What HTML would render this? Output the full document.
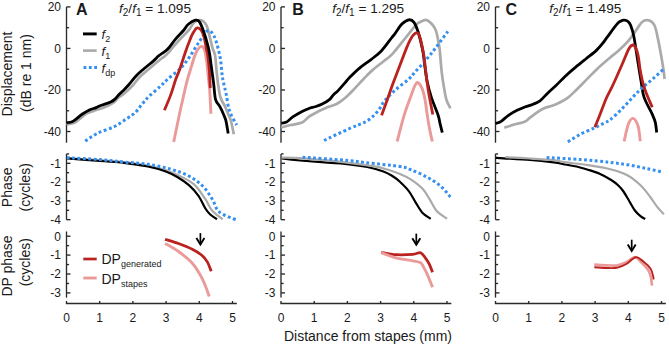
<!DOCTYPE html>
<html><head><meta charset="utf-8"><style>
html,body{margin:0;padding:0;background:#fff;}
svg{display:block;font-family:"Liberation Sans",sans-serif;fill:#222;}
text{fill:#1a1a1a;}
</style></head><body>
<svg width="669" height="347" viewBox="0 0 669 347">
<line x1="66.50" y1="6.90" x2="66.50" y2="142.74" stroke="#2a2a2a" stroke-width="1.35"/>
<line x1="66.50" y1="6.90" x2="70.50" y2="6.90" stroke="#2a2a2a" stroke-width="1.35"/>
<line x1="66.50" y1="48.44" x2="70.50" y2="48.44" stroke="#2a2a2a" stroke-width="1.35"/>
<line x1="66.50" y1="89.98" x2="70.50" y2="89.98" stroke="#2a2a2a" stroke-width="1.35"/>
<line x1="66.50" y1="131.52" x2="70.50" y2="131.52" stroke="#2a2a2a" stroke-width="1.35"/>
<line x1="66.50" y1="27.67" x2="69.10" y2="27.67" stroke="#2a2a2a" stroke-width="1.35"/>
<line x1="66.50" y1="69.21" x2="69.10" y2="69.21" stroke="#2a2a2a" stroke-width="1.35"/>
<line x1="66.50" y1="110.75" x2="69.10" y2="110.75" stroke="#2a2a2a" stroke-width="1.35"/>
<text x="61.00" y="11.20" font-size="12" text-anchor="end" >20</text>
<text x="61.00" y="52.74" font-size="12" text-anchor="end" >0</text>
<text x="61.00" y="94.28" font-size="12" text-anchor="end" >-20</text>
<text x="61.00" y="135.82" font-size="12" text-anchor="end" >-40</text>
<line x1="66.50" y1="153.90" x2="66.50" y2="219.70" stroke="#2a2a2a" stroke-width="1.35"/>
<line x1="66.50" y1="163.30" x2="70.50" y2="163.30" stroke="#2a2a2a" stroke-width="1.35"/>
<line x1="66.50" y1="182.10" x2="70.50" y2="182.10" stroke="#2a2a2a" stroke-width="1.35"/>
<line x1="66.50" y1="200.90" x2="70.50" y2="200.90" stroke="#2a2a2a" stroke-width="1.35"/>
<line x1="66.50" y1="219.70" x2="70.50" y2="219.70" stroke="#2a2a2a" stroke-width="1.35"/>
<line x1="66.50" y1="153.90" x2="69.10" y2="153.90" stroke="#2a2a2a" stroke-width="1.35"/>
<line x1="66.50" y1="172.70" x2="69.10" y2="172.70" stroke="#2a2a2a" stroke-width="1.35"/>
<line x1="66.50" y1="191.50" x2="69.10" y2="191.50" stroke="#2a2a2a" stroke-width="1.35"/>
<line x1="66.50" y1="210.30" x2="69.10" y2="210.30" stroke="#2a2a2a" stroke-width="1.35"/>
<text x="61.00" y="167.60" font-size="12" text-anchor="end" >-1</text>
<text x="61.00" y="186.40" font-size="12" text-anchor="end" >-2</text>
<text x="61.00" y="205.20" font-size="12" text-anchor="end" >-3</text>
<text x="61.00" y="224.00" font-size="12" text-anchor="end" >-4</text>
<line x1="66.50" y1="231.47" x2="66.50" y2="297.62" stroke="#2a2a2a" stroke-width="1.35"/>
<line x1="66.50" y1="236.20" x2="70.50" y2="236.20" stroke="#2a2a2a" stroke-width="1.35"/>
<line x1="66.50" y1="255.10" x2="70.50" y2="255.10" stroke="#2a2a2a" stroke-width="1.35"/>
<line x1="66.50" y1="274.00" x2="70.50" y2="274.00" stroke="#2a2a2a" stroke-width="1.35"/>
<line x1="66.50" y1="292.90" x2="70.50" y2="292.90" stroke="#2a2a2a" stroke-width="1.35"/>
<line x1="66.50" y1="245.65" x2="69.10" y2="245.65" stroke="#2a2a2a" stroke-width="1.35"/>
<line x1="66.50" y1="264.55" x2="69.10" y2="264.55" stroke="#2a2a2a" stroke-width="1.35"/>
<line x1="66.50" y1="283.45" x2="69.10" y2="283.45" stroke="#2a2a2a" stroke-width="1.35"/>
<text x="61.00" y="240.50" font-size="12" text-anchor="end" >0</text>
<text x="61.00" y="259.40" font-size="12" text-anchor="end" >-1</text>
<text x="61.00" y="278.30" font-size="12" text-anchor="end" >-2</text>
<text x="61.00" y="297.20" font-size="12" text-anchor="end" >-3</text>
<line x1="65.90" y1="303.50" x2="236.82" y2="303.50" stroke="#2a2a2a" stroke-width="1.35"/>
<line x1="66.50" y1="303.50" x2="66.50" y2="301.00" stroke="#2a2a2a" stroke-width="1.35"/>
<text x="66.50" y="322.00" font-size="12" text-anchor="middle" >0</text>
<line x1="99.70" y1="303.50" x2="99.70" y2="301.00" stroke="#2a2a2a" stroke-width="1.35"/>
<text x="99.70" y="322.00" font-size="12" text-anchor="middle" >1</text>
<line x1="132.90" y1="303.50" x2="132.90" y2="301.00" stroke="#2a2a2a" stroke-width="1.35"/>
<text x="132.90" y="322.00" font-size="12" text-anchor="middle" >2</text>
<line x1="166.10" y1="303.50" x2="166.10" y2="301.00" stroke="#2a2a2a" stroke-width="1.35"/>
<text x="166.10" y="322.00" font-size="12" text-anchor="middle" >3</text>
<line x1="199.30" y1="303.50" x2="199.30" y2="301.00" stroke="#2a2a2a" stroke-width="1.35"/>
<text x="199.30" y="322.00" font-size="12" text-anchor="middle" >4</text>
<line x1="232.50" y1="303.50" x2="232.50" y2="301.00" stroke="#2a2a2a" stroke-width="1.35"/>
<text x="232.50" y="322.00" font-size="12" text-anchor="middle" >5</text>
<line x1="281.00" y1="6.90" x2="281.00" y2="142.74" stroke="#2a2a2a" stroke-width="1.35"/>
<line x1="281.00" y1="6.90" x2="285.00" y2="6.90" stroke="#2a2a2a" stroke-width="1.35"/>
<line x1="281.00" y1="48.44" x2="285.00" y2="48.44" stroke="#2a2a2a" stroke-width="1.35"/>
<line x1="281.00" y1="89.98" x2="285.00" y2="89.98" stroke="#2a2a2a" stroke-width="1.35"/>
<line x1="281.00" y1="131.52" x2="285.00" y2="131.52" stroke="#2a2a2a" stroke-width="1.35"/>
<line x1="281.00" y1="27.67" x2="283.60" y2="27.67" stroke="#2a2a2a" stroke-width="1.35"/>
<line x1="281.00" y1="69.21" x2="283.60" y2="69.21" stroke="#2a2a2a" stroke-width="1.35"/>
<line x1="281.00" y1="110.75" x2="283.60" y2="110.75" stroke="#2a2a2a" stroke-width="1.35"/>
<text x="275.50" y="11.20" font-size="12" text-anchor="end" >20</text>
<text x="275.50" y="52.74" font-size="12" text-anchor="end" >0</text>
<text x="275.50" y="94.28" font-size="12" text-anchor="end" >-20</text>
<text x="275.50" y="135.82" font-size="12" text-anchor="end" >-40</text>
<line x1="281.00" y1="153.90" x2="281.00" y2="219.70" stroke="#2a2a2a" stroke-width="1.35"/>
<line x1="281.00" y1="163.30" x2="285.00" y2="163.30" stroke="#2a2a2a" stroke-width="1.35"/>
<line x1="281.00" y1="182.10" x2="285.00" y2="182.10" stroke="#2a2a2a" stroke-width="1.35"/>
<line x1="281.00" y1="200.90" x2="285.00" y2="200.90" stroke="#2a2a2a" stroke-width="1.35"/>
<line x1="281.00" y1="219.70" x2="285.00" y2="219.70" stroke="#2a2a2a" stroke-width="1.35"/>
<line x1="281.00" y1="153.90" x2="283.60" y2="153.90" stroke="#2a2a2a" stroke-width="1.35"/>
<line x1="281.00" y1="172.70" x2="283.60" y2="172.70" stroke="#2a2a2a" stroke-width="1.35"/>
<line x1="281.00" y1="191.50" x2="283.60" y2="191.50" stroke="#2a2a2a" stroke-width="1.35"/>
<line x1="281.00" y1="210.30" x2="283.60" y2="210.30" stroke="#2a2a2a" stroke-width="1.35"/>
<text x="275.50" y="167.60" font-size="12" text-anchor="end" >-1</text>
<text x="275.50" y="186.40" font-size="12" text-anchor="end" >-2</text>
<text x="275.50" y="205.20" font-size="12" text-anchor="end" >-3</text>
<text x="275.50" y="224.00" font-size="12" text-anchor="end" >-4</text>
<line x1="281.00" y1="231.47" x2="281.00" y2="297.62" stroke="#2a2a2a" stroke-width="1.35"/>
<line x1="281.00" y1="236.20" x2="285.00" y2="236.20" stroke="#2a2a2a" stroke-width="1.35"/>
<line x1="281.00" y1="255.10" x2="285.00" y2="255.10" stroke="#2a2a2a" stroke-width="1.35"/>
<line x1="281.00" y1="274.00" x2="285.00" y2="274.00" stroke="#2a2a2a" stroke-width="1.35"/>
<line x1="281.00" y1="292.90" x2="285.00" y2="292.90" stroke="#2a2a2a" stroke-width="1.35"/>
<line x1="281.00" y1="245.65" x2="283.60" y2="245.65" stroke="#2a2a2a" stroke-width="1.35"/>
<line x1="281.00" y1="264.55" x2="283.60" y2="264.55" stroke="#2a2a2a" stroke-width="1.35"/>
<line x1="281.00" y1="283.45" x2="283.60" y2="283.45" stroke="#2a2a2a" stroke-width="1.35"/>
<text x="275.50" y="240.50" font-size="12" text-anchor="end" >0</text>
<text x="275.50" y="259.40" font-size="12" text-anchor="end" >-1</text>
<text x="275.50" y="278.30" font-size="12" text-anchor="end" >-2</text>
<text x="275.50" y="297.20" font-size="12" text-anchor="end" >-3</text>
<line x1="280.40" y1="303.50" x2="451.32" y2="303.50" stroke="#2a2a2a" stroke-width="1.35"/>
<line x1="281.00" y1="303.50" x2="281.00" y2="301.00" stroke="#2a2a2a" stroke-width="1.35"/>
<text x="281.00" y="322.00" font-size="12" text-anchor="middle" >0</text>
<line x1="314.20" y1="303.50" x2="314.20" y2="301.00" stroke="#2a2a2a" stroke-width="1.35"/>
<text x="314.20" y="322.00" font-size="12" text-anchor="middle" >1</text>
<line x1="347.40" y1="303.50" x2="347.40" y2="301.00" stroke="#2a2a2a" stroke-width="1.35"/>
<text x="347.40" y="322.00" font-size="12" text-anchor="middle" >2</text>
<line x1="380.60" y1="303.50" x2="380.60" y2="301.00" stroke="#2a2a2a" stroke-width="1.35"/>
<text x="380.60" y="322.00" font-size="12" text-anchor="middle" >3</text>
<line x1="413.80" y1="303.50" x2="413.80" y2="301.00" stroke="#2a2a2a" stroke-width="1.35"/>
<text x="413.80" y="322.00" font-size="12" text-anchor="middle" >4</text>
<line x1="447.00" y1="303.50" x2="447.00" y2="301.00" stroke="#2a2a2a" stroke-width="1.35"/>
<text x="447.00" y="322.00" font-size="12" text-anchor="middle" >5</text>
<line x1="495.50" y1="6.90" x2="495.50" y2="142.74" stroke="#2a2a2a" stroke-width="1.35"/>
<line x1="495.50" y1="6.90" x2="499.50" y2="6.90" stroke="#2a2a2a" stroke-width="1.35"/>
<line x1="495.50" y1="48.44" x2="499.50" y2="48.44" stroke="#2a2a2a" stroke-width="1.35"/>
<line x1="495.50" y1="89.98" x2="499.50" y2="89.98" stroke="#2a2a2a" stroke-width="1.35"/>
<line x1="495.50" y1="131.52" x2="499.50" y2="131.52" stroke="#2a2a2a" stroke-width="1.35"/>
<line x1="495.50" y1="27.67" x2="498.10" y2="27.67" stroke="#2a2a2a" stroke-width="1.35"/>
<line x1="495.50" y1="69.21" x2="498.10" y2="69.21" stroke="#2a2a2a" stroke-width="1.35"/>
<line x1="495.50" y1="110.75" x2="498.10" y2="110.75" stroke="#2a2a2a" stroke-width="1.35"/>
<text x="490.00" y="11.20" font-size="12" text-anchor="end" >20</text>
<text x="490.00" y="52.74" font-size="12" text-anchor="end" >0</text>
<text x="490.00" y="94.28" font-size="12" text-anchor="end" >-20</text>
<text x="490.00" y="135.82" font-size="12" text-anchor="end" >-40</text>
<line x1="495.50" y1="153.90" x2="495.50" y2="219.70" stroke="#2a2a2a" stroke-width="1.35"/>
<line x1="495.50" y1="163.30" x2="499.50" y2="163.30" stroke="#2a2a2a" stroke-width="1.35"/>
<line x1="495.50" y1="182.10" x2="499.50" y2="182.10" stroke="#2a2a2a" stroke-width="1.35"/>
<line x1="495.50" y1="200.90" x2="499.50" y2="200.90" stroke="#2a2a2a" stroke-width="1.35"/>
<line x1="495.50" y1="219.70" x2="499.50" y2="219.70" stroke="#2a2a2a" stroke-width="1.35"/>
<line x1="495.50" y1="153.90" x2="498.10" y2="153.90" stroke="#2a2a2a" stroke-width="1.35"/>
<line x1="495.50" y1="172.70" x2="498.10" y2="172.70" stroke="#2a2a2a" stroke-width="1.35"/>
<line x1="495.50" y1="191.50" x2="498.10" y2="191.50" stroke="#2a2a2a" stroke-width="1.35"/>
<line x1="495.50" y1="210.30" x2="498.10" y2="210.30" stroke="#2a2a2a" stroke-width="1.35"/>
<text x="490.00" y="167.60" font-size="12" text-anchor="end" >-1</text>
<text x="490.00" y="186.40" font-size="12" text-anchor="end" >-2</text>
<text x="490.00" y="205.20" font-size="12" text-anchor="end" >-3</text>
<text x="490.00" y="224.00" font-size="12" text-anchor="end" >-4</text>
<line x1="495.50" y1="231.47" x2="495.50" y2="297.62" stroke="#2a2a2a" stroke-width="1.35"/>
<line x1="495.50" y1="236.20" x2="499.50" y2="236.20" stroke="#2a2a2a" stroke-width="1.35"/>
<line x1="495.50" y1="255.10" x2="499.50" y2="255.10" stroke="#2a2a2a" stroke-width="1.35"/>
<line x1="495.50" y1="274.00" x2="499.50" y2="274.00" stroke="#2a2a2a" stroke-width="1.35"/>
<line x1="495.50" y1="292.90" x2="499.50" y2="292.90" stroke="#2a2a2a" stroke-width="1.35"/>
<line x1="495.50" y1="245.65" x2="498.10" y2="245.65" stroke="#2a2a2a" stroke-width="1.35"/>
<line x1="495.50" y1="264.55" x2="498.10" y2="264.55" stroke="#2a2a2a" stroke-width="1.35"/>
<line x1="495.50" y1="283.45" x2="498.10" y2="283.45" stroke="#2a2a2a" stroke-width="1.35"/>
<text x="490.00" y="240.50" font-size="12" text-anchor="end" >0</text>
<text x="490.00" y="259.40" font-size="12" text-anchor="end" >-1</text>
<text x="490.00" y="278.30" font-size="12" text-anchor="end" >-2</text>
<text x="490.00" y="297.20" font-size="12" text-anchor="end" >-3</text>
<line x1="494.90" y1="303.50" x2="665.82" y2="303.50" stroke="#2a2a2a" stroke-width="1.35"/>
<line x1="495.50" y1="303.50" x2="495.50" y2="301.00" stroke="#2a2a2a" stroke-width="1.35"/>
<text x="495.50" y="322.00" font-size="12" text-anchor="middle" >0</text>
<line x1="528.70" y1="303.50" x2="528.70" y2="301.00" stroke="#2a2a2a" stroke-width="1.35"/>
<text x="528.70" y="322.00" font-size="12" text-anchor="middle" >1</text>
<line x1="561.90" y1="303.50" x2="561.90" y2="301.00" stroke="#2a2a2a" stroke-width="1.35"/>
<text x="561.90" y="322.00" font-size="12" text-anchor="middle" >2</text>
<line x1="595.10" y1="303.50" x2="595.10" y2="301.00" stroke="#2a2a2a" stroke-width="1.35"/>
<text x="595.10" y="322.00" font-size="12" text-anchor="middle" >3</text>
<line x1="628.30" y1="303.50" x2="628.30" y2="301.00" stroke="#2a2a2a" stroke-width="1.35"/>
<text x="628.30" y="322.00" font-size="12" text-anchor="middle" >4</text>
<line x1="661.50" y1="303.50" x2="661.50" y2="301.00" stroke="#2a2a2a" stroke-width="1.35"/>
<text x="661.50" y="322.00" font-size="12" text-anchor="middle" >5</text>
<text x="0" y="0" font-size="14" text-anchor="middle" transform="translate(12.4,74) rotate(-90)">Displacement</text>
<text x="0" y="0" font-size="14" text-anchor="middle" transform="translate(31.3,73) rotate(-90)">(dB re 1 nm)</text>
<text x="0" y="0" font-size="14" text-anchor="middle" transform="translate(12.4,187.3) rotate(-90)">Phase</text>
<text x="0" y="0" font-size="14" text-anchor="middle" transform="translate(30,187.3) rotate(-90)">(cycles)</text>
<text x="0" y="0" font-size="14" text-anchor="middle" transform="translate(12.4,266) rotate(-90)">DP phase</text>
<text x="0" y="0" font-size="14" text-anchor="middle" transform="translate(30.3,262.2) rotate(-90)">(cycles)</text>
<text x="368.00" y="341.00" font-size="14" text-anchor="middle" >Distance from stapes (mm)</text>
<path d="M83.0,33.9 L96.7,33.9" fill="none" stroke="#000" stroke-width="2.9" stroke-linejoin="round" stroke-linecap="butt"/>
<path d="M83.0,50.6 L96.7,50.6" fill="none" stroke="#aaaaaa" stroke-width="2.6" stroke-linejoin="round" stroke-linecap="butt"/>
<path d="M83.5,67.5 L98.0,67.5" fill="none" stroke="#3590f0" stroke-width="3.0" stroke-linejoin="round" stroke-linecap="butt" stroke-dasharray="2.85 2.5"/>
<text x="101.5" y="39.4" font-size="13"><tspan font-style="italic">f</tspan><tspan font-size="9" dy="3">2</tspan></text>
<text x="101.5" y="56" font-size="13"><tspan font-style="italic">f</tspan><tspan font-size="9" dy="3">1</tspan></text>
<text x="101.5" y="72.5" font-size="13"><tspan font-style="italic">f</tspan><tspan font-size="9" dy="3">dp</tspan></text>
<text x="191" y="12.9" font-size="13.6" text-anchor="end"><tspan font-style="italic">f</tspan><tspan font-size="10" dy="3">2</tspan><tspan dy="-3">/</tspan><tspan font-style="italic">f</tspan><tspan font-size="10" dy="3">1</tspan><tspan dy="-3"> = 1.095</tspan></text>
<text x="404.2" y="12.9" font-size="13.6" text-anchor="end"><tspan font-style="italic">f</tspan><tspan font-size="10" dy="3">2</tspan><tspan dy="-3">/</tspan><tspan font-style="italic">f</tspan><tspan font-size="10" dy="3">1</tspan><tspan dy="-3"> = 1.295</tspan></text>
<text x="621.3" y="12.9" font-size="13.6" text-anchor="end"><tspan font-style="italic">f</tspan><tspan font-size="10" dy="3">2</tspan><tspan dy="-3">/</tspan><tspan font-style="italic">f</tspan><tspan font-size="10" dy="3">1</tspan><tspan dy="-3"> = 1.495</tspan></text>
<text x="76" y="14.8" font-size="16" font-weight="bold">A</text>
<text x="292.3" y="14.8" font-size="16" font-weight="bold">B</text>
<text x="505.5" y="14.8" font-size="16" font-weight="bold">C</text>
<path d="M83.3,259.0 L96.7,259.0" fill="none" stroke="#b9221e" stroke-width="2.7" stroke-linejoin="round" stroke-linecap="butt"/>
<path d="M83.3,278.0 L96.7,278.0" fill="none" stroke="#eb9a9a" stroke-width="2.9" stroke-linejoin="round" stroke-linecap="butt"/>
<text x="101.5" y="264.4" font-size="14">DP<tspan font-size="9" dy="3">generated</tspan></text>
<text x="101.5" y="284" font-size="14">DP<tspan font-size="9" dy="3">stapes</tspan></text>
<path d="M66.5,124.4 C67.8,124.1 72.1,123.7 74.4,122.7 C76.7,121.7 78.0,120.1 80.1,118.6 C82.2,117.0 84.4,114.8 87.1,113.4 C89.8,112.0 93.5,111.0 96.3,110.0 C99.1,109.0 101.2,108.8 104.0,107.6 C106.8,106.4 110.6,104.7 113.1,103.0 C115.6,101.3 116.9,98.9 118.8,97.3 C120.7,95.7 122.2,95.3 124.6,93.3 C127.0,91.2 130.5,87.8 133.1,85.0 C135.7,82.2 137.5,79.2 140.0,76.7 C142.5,74.2 144.7,72.6 148.0,69.8 C151.3,67.0 156.8,62.3 159.6,60.0 C162.4,57.7 163.2,57.6 165.0,56.0 C166.8,54.4 167.9,53.2 170.2,50.6 C172.5,48.0 175.7,43.9 178.8,40.5 C181.9,37.1 186.3,33.0 188.9,30.0 C191.5,26.9 192.3,23.8 194.4,22.2 C196.5,20.6 199.3,19.7 201.3,20.2 C203.3,20.7 205.1,22.5 206.5,25.4 C207.9,28.3 208.9,33.7 209.9,37.5 C210.9,41.3 211.7,45.1 212.5,48.0 C213.3,50.9 214.3,51.3 215.0,55.0 C215.7,58.7 216.0,65.0 216.5,70.0 C217.0,75.0 217.5,80.3 218.2,85.0 C218.9,89.7 219.5,94.4 220.7,98.0 C221.8,101.6 223.8,103.8 225.1,106.6 C226.4,109.4 227.5,112.6 228.5,115.0 C229.5,117.4 230.1,117.8 231.0,121.0 C231.9,124.2 233.3,132.0 233.8,134.2" fill="none" stroke="#aaaaaa" stroke-width="2.7" stroke-linejoin="round" stroke-linecap="butt"/>
<path d="M85.2,141.1 C87.2,139.8 92.4,135.8 97.3,133.4 C102.2,131.0 109.6,128.9 114.5,126.5 C119.4,124.0 123.1,121.0 126.6,118.7 C130.1,116.4 132.7,115.0 135.3,112.6 C137.9,110.1 139.9,106.7 142.2,104.0 C144.5,101.3 146.1,99.1 149.1,96.2 C152.1,93.3 157.0,89.5 160.0,86.7 C163.0,83.9 164.2,82.3 167.3,79.5 C170.4,76.7 176.1,72.4 178.8,70.0 C181.5,67.6 181.6,67.4 183.4,65.1 C185.2,62.8 187.5,60.0 189.9,56.4 C192.3,52.8 195.3,47.6 198.1,43.5 C200.9,39.4 204.2,33.4 206.5,31.5 C208.8,29.6 210.0,30.7 211.6,32.3 C213.2,33.9 214.6,36.7 216.0,41.0 C217.4,45.3 219.3,52.8 220.3,58.3 C221.3,63.8 221.5,69.9 222.0,73.9 C222.5,78.0 222.8,79.3 223.5,82.6 C224.2,85.9 225.1,89.0 226.1,93.8 C227.1,98.5 227.8,105.9 229.6,111.1 C231.4,116.3 235.6,122.7 236.8,125.0" fill="none" stroke="#3590f0" stroke-width="3.0" stroke-linejoin="round" stroke-linecap="butt" stroke-dasharray="2.85 2.5"/>
<path d="M173.7,142.0 C174.7,137.3 177.6,122.8 179.5,114.0 C181.4,105.2 183.7,95.1 185.1,89.0 C186.5,82.9 186.9,81.3 188.0,77.5 C189.1,73.7 190.3,70.0 191.6,65.9 C192.9,61.8 194.3,56.2 195.9,53.0 C197.5,49.8 199.6,47.0 201.0,46.5 C202.4,46.0 203.7,47.6 204.6,50.1 C205.5,52.6 206.1,57.3 206.7,61.6 C207.3,65.9 207.7,71.4 208.2,76.0 C208.7,80.6 209.1,82.7 209.6,89.0 C210.1,95.3 210.7,109.6 210.9,113.7" fill="none" stroke="#eb9a9a" stroke-width="2.9" stroke-linejoin="round" stroke-linecap="butt"/>
<path d="M164.4,110.2 C165.5,107.6 169.0,99.6 170.8,94.6 C172.7,89.6 174.1,84.1 175.5,80.0 C176.9,75.9 177.9,74.5 179.5,70.0 C181.1,65.5 183.4,58.0 185.1,53.0 C186.8,48.0 188.6,43.2 189.9,40.0 C191.2,36.8 191.6,35.5 192.8,33.5 C194.0,31.5 195.5,28.6 196.9,28.0 C198.3,27.4 199.8,28.5 201.0,30.0 C202.2,31.5 203.1,33.7 204.0,37.0 C204.9,40.3 205.9,46.6 206.5,49.6 C207.1,52.6 207.2,51.6 207.7,55.0 C208.2,58.4 208.9,65.0 209.3,70.0 C209.7,75.0 209.9,82.0 210.1,85.0 C210.3,88.0 210.3,87.5 210.4,88.0" fill="none" stroke="#b9221e" stroke-width="2.8" stroke-linejoin="round" stroke-linecap="butt"/>
<path d="M66.5,122.9 C67.4,122.7 70.4,122.4 72.1,121.7 C73.8,121.0 75.0,119.9 76.7,118.6 C78.4,117.3 80.3,115.4 82.4,114.0 C84.5,112.6 87.1,111.1 89.4,110.0 C91.7,108.9 94.3,108.4 96.3,107.6 C98.3,106.8 99.1,106.2 101.5,105.3 C103.9,104.4 108.5,103.0 110.7,102.0 C112.9,101.0 113.5,100.4 114.8,99.2 C116.1,98.0 117.4,96.3 118.8,94.8 C120.2,93.3 121.8,92.0 123.4,90.4 C125.0,88.8 126.3,87.5 128.5,85.0 C130.7,82.5 134.0,78.1 136.5,75.5 C139.0,72.9 140.5,71.7 143.4,69.2 C146.3,66.7 151.3,62.8 153.8,60.6 C156.3,58.4 156.7,57.5 158.6,55.9 C160.5,54.3 163.3,52.6 165.0,51.3 C166.7,50.0 166.9,50.1 168.7,48.0 C170.5,45.9 173.4,41.6 175.9,38.6 C178.4,35.6 181.8,32.4 183.9,30.0 C186.0,27.6 186.4,25.8 188.3,24.2 C190.2,22.6 193.5,20.6 195.4,20.2 C197.3,19.8 198.1,19.9 199.5,21.9 C200.9,23.9 202.5,28.3 203.9,32.3 C205.3,36.3 207.0,42.2 208.0,46.0 C209.0,49.8 209.2,51.0 209.8,55.0 C210.4,59.0 211.1,65.0 211.8,70.0 C212.5,75.0 213.2,80.0 213.8,85.0 C214.4,90.0 214.6,96.1 215.6,99.7 C216.6,103.3 218.5,104.0 219.9,106.6 C221.3,109.1 222.8,112.5 223.8,115.0 C224.8,117.5 225.4,118.4 226.1,121.5 C226.8,124.6 227.8,131.6 228.2,133.6" fill="none" stroke="#000" stroke-width="2.8" stroke-linejoin="round" stroke-linecap="butt"/>
<path d="M67.0,158.0 C72.5,158.4 90.5,159.5 100.0,160.2 C109.5,160.9 115.9,161.1 123.9,162.0 C131.9,162.9 140.8,164.1 147.8,165.5 C154.8,166.9 160.8,168.6 165.8,170.2 C170.8,171.8 173.0,172.7 177.7,175.0 C182.4,177.3 189.2,180.2 193.8,184.2 C198.4,188.2 202.3,194.8 205.4,199.2 C208.5,203.6 209.4,207.5 212.3,210.8 C215.2,214.2 221.0,217.9 222.7,219.3" fill="none" stroke="#aaaaaa" stroke-width="2.2" stroke-linejoin="round" stroke-linecap="butt"/>
<path d="M67.0,158.4 C72.5,158.8 90.5,160.2 100.0,161.0 C109.5,161.8 115.9,162.0 123.9,162.9 C131.9,163.8 140.8,165.1 147.8,166.5 C154.8,167.9 160.8,169.7 165.8,171.5 C170.8,173.3 173.8,175.0 177.7,177.3 C181.6,179.6 185.7,182.3 189.2,185.4 C192.7,188.5 195.8,192.0 198.5,195.8 C201.2,199.7 203.5,205.4 205.4,208.5 C207.3,211.6 208.1,212.4 210.0,214.2 C211.9,216.0 215.8,218.5 216.9,219.3" fill="none" stroke="#000" stroke-width="2.2" stroke-linejoin="round" stroke-linecap="butt"/>
<path d="M66.9,157.7 C72.4,158.0 90.5,158.9 100.0,159.6 C109.5,160.3 115.9,161.2 123.9,162.0 C131.9,162.8 140.0,163.1 147.8,164.3 C155.6,165.5 163.9,167.2 170.8,169.2 C177.7,171.2 183.8,173.3 189.2,176.2 C194.6,179.1 199.2,182.7 203.1,186.5 C206.9,190.3 209.6,195.0 212.3,199.2 C215.0,203.4 215.2,208.4 219.2,211.9 C223.2,215.4 233.6,218.7 236.5,220.0" fill="none" stroke="#3590f0" stroke-width="3.0" stroke-linejoin="round" stroke-linecap="butt" stroke-dasharray="2.85 2.5"/>
<path d="M165.1,243.5 C167.3,244.8 174.0,248.2 178.5,251.5 C183.0,254.8 188.5,258.9 192.3,263.2 C196.1,267.5 199.2,273.1 201.5,277.2 C203.8,281.3 204.9,284.8 206.2,288.0 C207.5,291.2 208.7,295.1 209.2,296.5" fill="none" stroke="#eb9a9a" stroke-width="2.9" stroke-linejoin="round" stroke-linecap="butt"/>
<path d="M165.1,239.3 C167.3,240.0 174.0,241.8 178.5,243.5 C183.0,245.2 188.5,247.3 192.3,249.2 C196.1,251.1 199.0,252.9 201.5,255.0 C204.0,257.1 205.7,259.2 207.3,261.9 C208.9,264.6 210.5,269.6 211.2,271.2" fill="none" stroke="#b9221e" stroke-width="2.8" stroke-linejoin="round" stroke-linecap="butt"/>
<path d="M200.4,233.1 L200.4,244.3" fill="none" stroke="#000" stroke-width="1.7"/><path d="M196.4,238.10000000000002 L200.4,244.5 L204.4,238.10000000000002" fill="none" stroke="#000" stroke-width="1.9" stroke-linejoin="miter"/>
<path d="M281.3,127.5 C282.8,127.1 287.0,125.8 290.5,125.0 C294.0,124.2 299.0,124.0 302.1,122.6 C305.2,121.2 306.2,118.6 309.0,116.7 C311.8,114.8 316.1,112.5 319.0,111.0 C321.9,109.5 323.6,108.8 326.5,107.6 C329.4,106.4 333.5,105.6 336.6,104.0 C339.7,102.4 342.3,100.4 345.3,97.8 C348.3,95.2 351.5,91.8 354.6,88.6 C357.7,85.4 360.7,82.0 363.8,78.8 C366.9,75.6 368.7,73.3 373.1,69.6 C377.5,65.8 386.4,59.4 390.0,56.3 C393.6,53.2 392.4,53.9 395.0,50.9 C397.6,47.9 401.9,42.3 405.4,38.0 C408.9,33.7 413.3,27.8 415.8,25.1 C418.3,22.4 418.5,22.9 420.2,22.0 C421.9,21.1 424.1,19.6 426.0,19.8 C427.9,20.1 429.7,21.7 431.3,23.5 C432.9,25.3 434.5,26.6 435.8,30.4 C437.1,34.1 438.4,41.3 439.2,46.0 C440.0,50.7 440.1,54.4 440.5,58.7 C440.9,63.0 441.2,67.9 441.7,72.0 C442.2,76.1 442.5,78.7 443.3,83.2 C444.1,87.8 445.1,95.1 446.3,99.3 C447.5,103.5 449.7,106.9 450.4,108.4" fill="none" stroke="#aaaaaa" stroke-width="2.7" stroke-linejoin="round" stroke-linecap="butt"/>
<path d="M281.3,123.2 C282.2,123.0 284.6,123.1 286.5,122.1 C288.4,121.0 290.2,118.7 292.8,116.9 C295.4,115.1 299.2,112.9 302.1,111.4 C305.0,109.9 308.0,108.8 310.1,108.0 C312.2,107.2 313.0,107.5 315.0,106.8 C317.0,106.1 319.8,105.2 322.2,104.0 C324.6,102.8 327.5,101.2 329.4,99.6 C331.3,98.0 332.2,96.0 333.7,94.5 C335.1,93.0 336.2,92.6 338.1,90.6 C340.0,88.6 343.3,84.8 345.3,82.5 C347.3,80.2 347.7,79.4 350.0,77.1 C352.3,74.8 355.8,71.3 359.2,68.4 C362.6,65.5 367.0,62.7 370.7,59.8 C374.4,56.9 377.6,54.8 381.1,51.2 C384.6,47.6 389.2,40.9 391.5,38.0 C393.8,35.1 393.3,35.9 395.0,33.6 C396.7,31.3 399.6,26.4 401.9,24.1 C404.2,21.8 406.8,20.1 408.8,19.8 C410.8,19.5 412.4,20.2 414.0,22.4 C415.6,24.6 416.9,28.2 418.4,32.8 C419.8,37.4 421.6,44.7 422.7,50.1 C423.8,55.5 424.0,59.8 424.7,65.0 C425.4,70.2 426.0,75.8 427.1,81.2 C428.2,86.6 429.5,91.5 431.3,97.2 C433.1,102.9 436.8,111.1 438.2,115.5 C439.6,119.9 439.3,120.5 440.0,123.4 C440.7,126.3 441.9,131.1 442.3,132.7" fill="none" stroke="#000" stroke-width="2.8" stroke-linejoin="round" stroke-linecap="butt"/>
<path d="M324.0,140.5 C328.2,138.5 342.4,131.7 349.5,128.5 C356.6,125.3 361.9,124.0 366.6,121.2 C371.3,118.4 374.5,114.9 377.6,111.4 C380.7,107.9 381.9,104.1 385.0,100.4 C388.1,96.7 392.1,92.9 396.0,89.4 C399.9,85.9 405.0,82.5 408.2,79.6 C411.4,76.7 412.1,75.2 415.0,72.0 C417.9,68.8 421.9,64.8 425.4,60.7 C428.9,56.7 432.1,52.6 435.8,47.7 C439.6,42.8 445.9,34.0 447.9,31.3" fill="none" stroke="#3590f0" stroke-width="3.0" stroke-linejoin="round" stroke-linecap="butt" stroke-dasharray="2.85 2.5"/>
<path d="M397.1,141.5 C398.3,137.1 401.8,123.0 404.1,115.3 C406.5,107.6 409.4,100.2 411.2,95.2 C413.0,90.2 414.0,87.2 415.2,85.1 C416.4,83.0 417.0,82.0 418.2,82.7 C419.4,83.4 421.1,86.0 422.3,89.1 C423.5,92.2 424.5,96.8 425.3,101.2 C426.1,105.6 426.6,110.9 427.3,115.3 C428.0,119.7 428.5,123.0 429.3,127.4 C430.1,131.8 431.8,139.2 432.3,141.5" fill="none" stroke="#eb9a9a" stroke-width="2.9" stroke-linejoin="round" stroke-linecap="butt"/>
<path d="M381.6,115.4 C382.5,112.8 385.4,105.1 387.2,100.0 C389.0,94.9 390.5,90.2 392.4,85.0 C394.3,79.8 396.1,75.5 398.5,69.1 C400.9,62.7 404.8,52.1 407.1,46.6 C409.4,41.1 410.9,38.3 412.5,36.0 C414.1,33.7 415.4,32.8 416.6,32.8 C417.8,32.8 418.3,32.4 419.5,36.0 C420.7,39.6 422.8,49.8 423.7,54.6 C424.6,59.4 424.3,59.2 425.0,65.0 C425.7,70.8 426.8,81.0 428.1,89.2 C429.4,97.5 432.0,110.3 432.8,114.5" fill="none" stroke="#b9221e" stroke-width="2.8" stroke-linejoin="round" stroke-linecap="butt"/>
<path d="M281.9,158.4 C284.9,158.8 289.5,159.6 300.0,160.5 C310.5,161.4 333.6,162.7 344.8,163.8 C356.0,164.9 360.9,165.7 367.3,167.0 C373.7,168.3 379.3,170.0 383.4,171.5 C387.5,173.0 389.3,174.1 392.0,175.8 C394.7,177.5 396.8,178.9 399.6,181.5 C402.4,184.1 406.1,187.6 408.8,191.1 C411.5,194.6 413.4,198.9 415.7,202.6 C418.0,206.2 420.1,210.3 422.6,213.0 C425.1,215.7 429.4,217.8 430.7,218.8" fill="none" stroke="#000" stroke-width="2.2" stroke-linejoin="round" stroke-linecap="butt"/>
<path d="M281.9,157.7 C284.9,157.8 289.5,157.4 300.0,158.2 C310.5,159.0 332.4,160.9 344.8,162.3 C357.2,163.7 367.5,165.2 374.7,166.4 C381.9,167.7 383.8,168.5 388.0,169.8 C392.2,171.1 396.1,172.4 400.0,174.0 C403.9,175.6 407.3,177.1 411.1,179.6 C414.9,182.1 419.5,185.5 422.6,188.8 C425.7,192.1 427.3,195.5 429.6,199.2 C431.9,202.8 433.6,207.4 436.5,210.7 C439.4,214.0 445.2,217.5 446.9,218.8" fill="none" stroke="#aaaaaa" stroke-width="2.2" stroke-linejoin="round" stroke-linecap="butt"/>
<path d="M302.6,157.2 C309.6,157.7 334.4,159.3 344.8,160.2 C355.2,161.1 355.8,161.4 365.0,162.5 C374.2,163.6 392.3,165.3 400.0,166.5 C407.7,167.7 406.6,168.0 411.1,169.8 C415.7,171.6 422.3,174.5 427.3,177.3 C432.3,180.1 437.3,183.2 441.1,186.5 C444.9,189.8 448.8,195.2 450.3,196.9" fill="none" stroke="#3590f0" stroke-width="3.0" stroke-linejoin="round" stroke-linecap="butt" stroke-dasharray="2.85 2.5"/>
<path d="M381.2,252.3 C383.6,252.7 390.6,254.3 395.9,254.7 C401.1,255.0 408.6,254.7 412.7,254.4 C416.8,254.1 418.5,252.2 420.6,252.8 C422.7,253.4 423.9,256.0 425.3,257.9 C426.8,259.8 428.1,261.8 429.3,264.2 C430.5,266.6 432.0,270.9 432.5,272.2" fill="none" stroke="#b9221e" stroke-width="2.8" stroke-linejoin="round" stroke-linecap="butt"/>
<path d="M381.2,252.6 C383.6,253.5 390.6,256.4 395.9,257.8 C401.1,259.2 408.6,260.0 412.7,260.8 C416.8,261.6 418.8,261.6 420.6,262.7 C422.4,263.8 422.5,265.3 423.7,267.4 C424.9,269.5 426.2,272.0 427.7,275.3 C429.2,278.6 431.7,285.2 432.5,287.2" fill="none" stroke="#eb9a9a" stroke-width="2.9" stroke-linejoin="round" stroke-linecap="butt"/>
<path d="M416.3,233.6 L416.3,244.4" fill="none" stroke="#000" stroke-width="1.7"/><path d="M412.3,238.20000000000002 L416.3,244.6 L420.3,238.20000000000002" fill="none" stroke="#000" stroke-width="1.9" stroke-linejoin="miter"/>
<path d="M504.3,127.8 C506.1,127.2 511.6,125.3 515.0,124.3 C518.4,123.3 522.1,122.9 524.7,121.7 C527.3,120.5 527.6,119.4 530.6,117.2 C533.6,115.0 539.0,110.8 543.0,108.8 C547.0,106.8 550.3,106.7 554.3,105.0 C558.3,103.3 563.3,101.0 567.0,98.4 C570.7,95.9 573.2,92.9 576.5,89.7 C579.8,86.5 583.5,82.6 587.0,79.1 C590.5,75.6 593.6,72.3 597.4,68.7 C601.2,65.1 606.5,60.7 610.0,57.7 C613.5,54.7 615.7,53.4 618.7,50.6 C621.7,47.9 625.4,44.3 628.1,41.2 C630.8,38.1 632.6,35.1 635.0,31.9 C637.4,28.6 640.1,23.6 642.4,21.7 C644.6,19.8 646.5,19.8 648.5,20.3 C650.5,20.9 652.8,22.1 654.3,25.0 C655.8,27.9 656.6,32.4 657.7,37.6 C658.9,42.8 660.2,50.6 661.2,56.0 C662.2,61.4 662.9,66.0 663.5,69.8 C664.1,73.6 664.4,77.5 664.6,79.0" fill="none" stroke="#aaaaaa" stroke-width="2.7" stroke-linejoin="round" stroke-linecap="butt"/>
<path d="M495.6,123.4 C496.5,123.1 498.7,123.1 500.8,121.7 C502.9,120.3 505.7,117.2 508.5,115.3 C511.3,113.4 514.8,111.5 517.6,110.1 C520.4,108.7 522.8,107.8 525.4,106.8 C528.0,105.8 530.8,105.2 533.2,104.2 C535.6,103.2 537.5,102.7 540.0,100.8 C542.5,98.9 545.2,95.5 547.9,92.9 C550.6,90.4 553.1,88.2 556.0,85.5 C558.9,82.8 561.8,79.5 565.0,76.5 C568.2,73.5 571.9,70.3 575.4,67.4 C578.9,64.5 582.3,61.8 585.8,59.0 C589.2,56.2 593.3,53.2 596.1,50.6 C598.9,48.0 600.7,45.8 602.6,43.4 C604.5,41.0 605.4,39.5 607.8,36.3 C610.2,33.1 614.6,26.9 616.8,24.4 C619.0,21.8 619.8,21.7 621.0,21.0 C622.2,20.3 623.1,20.1 624.3,20.2 C625.5,20.3 627.0,20.7 628.0,21.5 C629.0,22.3 629.6,22.7 630.5,25.0 C631.4,27.3 632.5,30.1 633.6,35.3 C634.7,40.5 636.1,50.2 637.0,56.0 C637.9,61.8 638.5,65.7 639.2,70.0 C639.9,74.3 640.5,78.1 641.2,82.1 C641.9,86.1 642.4,90.8 643.2,94.2 C644.0,97.6 644.7,98.9 646.2,102.3 C647.7,105.7 650.8,111.1 652.3,114.4 C653.8,117.8 654.6,119.4 655.3,122.4 C656.0,125.4 656.5,130.8 656.7,132.5" fill="none" stroke="#000" stroke-width="2.8" stroke-linejoin="round" stroke-linecap="butt"/>
<path d="M567.9,141.9 C569.8,140.7 575.1,137.0 579.4,134.7 C583.7,132.4 589.8,130.1 593.9,128.2 C598.0,126.3 601.3,124.5 604.0,123.1 C606.7,121.7 607.1,122.2 610.0,119.9 C612.9,117.7 617.5,113.3 621.2,109.6 C625.0,105.9 629.1,101.1 632.5,97.5 C635.9,93.9 638.4,91.2 641.8,88.1 C645.2,85.0 649.4,82.0 653.1,78.7 C656.9,75.4 662.4,70.1 664.3,68.4" fill="none" stroke="#3590f0" stroke-width="3.0" stroke-linejoin="round" stroke-linecap="butt" stroke-dasharray="2.85 2.5"/>
<path d="M624.1,141.3 C624.8,138.4 626.9,127.8 628.4,124.0 C629.9,120.2 631.5,118.0 633.1,118.4 C634.7,118.8 636.9,122.4 638.1,126.2 C639.3,130.0 639.9,138.8 640.3,141.3" fill="none" stroke="#eb9a9a" stroke-width="2.9" stroke-linejoin="round" stroke-linecap="butt"/>
<path d="M594.9,127.2 C595.8,125.1 598.1,119.2 600.0,114.5 C601.9,109.8 604.0,103.7 606.0,99.0 C608.0,94.3 610.4,90.3 612.2,86.5 C614.0,82.7 615.3,79.8 617.0,76.0 C618.7,72.2 620.5,68.1 622.5,63.5 C624.5,58.9 627.3,51.6 629.0,48.5 C630.7,45.4 631.7,45.2 632.8,45.0 C633.9,44.8 634.6,45.7 635.5,47.5 C636.4,49.3 637.4,52.2 638.2,56.0 C639.0,59.8 639.5,66.0 640.2,70.0 C640.9,74.0 641.4,76.7 642.2,80.1 C643.0,83.5 644.0,86.8 645.2,90.2 C646.4,93.6 648.0,97.4 649.2,100.2 C650.4,103.0 651.8,106.1 652.3,107.3" fill="none" stroke="#b9221e" stroke-width="2.8" stroke-linejoin="round" stroke-linecap="butt"/>
<path d="M495.8,157.7 C496.5,157.8 494.3,157.7 500.0,158.1 C505.7,158.5 521.0,159.3 530.0,160.0 C539.0,160.7 548.0,161.7 553.8,162.4 C559.6,163.2 561.2,163.8 565.0,164.5 C568.8,165.2 572.6,165.6 576.5,166.5 C580.4,167.4 584.2,168.6 588.1,169.8 C592.0,171.0 595.8,172.1 599.6,173.8 C603.5,175.5 608.1,178.1 611.2,180.0 C614.3,181.9 616.1,183.4 618.1,185.3 C620.1,187.2 621.6,188.8 623.5,191.5 C625.4,194.2 627.4,198.0 629.3,201.2 C631.2,204.4 633.0,208.0 634.9,210.5 C636.8,213.0 638.8,214.8 640.5,216.2 C642.2,217.6 644.4,218.5 645.2,219.0" fill="none" stroke="#000" stroke-width="2.2" stroke-linejoin="round" stroke-linecap="butt"/>
<path d="M505.4,157.2 C509.5,157.4 521.9,158.0 530.0,158.5 C538.1,159.0 548.0,159.6 553.8,160.2 C559.6,160.8 559.3,161.4 565.0,162.2 C570.7,163.0 580.4,164.0 588.1,165.2 C595.8,166.4 604.7,167.8 611.2,169.5 C617.8,171.2 622.5,172.7 627.4,175.3 C632.3,177.9 636.8,181.8 640.5,185.3 C644.2,188.8 647.1,192.8 649.9,196.5 C652.7,200.2 655.1,204.2 657.4,207.2 C659.7,210.2 662.8,213.1 663.9,214.3" fill="none" stroke="#aaaaaa" stroke-width="2.2" stroke-linejoin="round" stroke-linecap="butt"/>
<path d="M546.6,157.5 C552.3,157.8 570.4,158.8 580.7,159.6 C591.1,160.4 600.9,161.3 608.7,162.2 C616.5,163.0 621.1,163.7 627.4,164.7 C633.6,165.7 640.3,167.2 646.2,168.4 C652.1,169.7 660.2,171.6 663.0,172.2" fill="none" stroke="#3590f0" stroke-width="3.0" stroke-linejoin="round" stroke-linecap="butt" stroke-dasharray="2.85 2.5"/>
<path d="M594.3,264.6 C596.5,264.7 603.4,265.3 607.3,265.4 C611.2,265.5 614.5,265.9 617.7,265.4 C620.9,264.9 623.4,263.6 626.3,262.2 C629.2,260.8 632.8,257.1 635.3,257.2 C637.8,257.2 639.4,260.4 641.5,262.5 C643.6,264.6 646.5,267.6 648.0,269.8 C649.5,272.1 649.9,273.4 650.6,276.0 C651.3,278.6 651.8,284.0 652.0,285.6" fill="none" stroke="#eb9a9a" stroke-width="2.7" stroke-linejoin="round" stroke-linecap="butt"/>
<path d="M594.3,267.2 C596.5,267.3 603.4,267.9 607.3,268.0 C611.2,268.1 614.5,268.3 617.7,267.6 C620.9,266.9 623.3,265.7 626.3,264.0 C629.3,262.3 633.0,257.6 635.8,257.2 C638.6,256.8 640.8,259.6 643.3,261.5 C645.8,263.4 649.0,266.3 650.6,268.8 C652.2,271.3 652.7,274.7 653.2,276.5 C653.7,278.3 653.5,279.0 653.6,279.5" fill="none" stroke="#b9221e" stroke-width="1.9" stroke-linejoin="round" stroke-linecap="butt"/>
<path d="M631.7,239.7 L631.7,250.8" fill="none" stroke="#000" stroke-width="1.7"/><path d="M627.7,244.60000000000002 L631.7,251.0 L635.7,244.60000000000002" fill="none" stroke="#000" stroke-width="1.9" stroke-linejoin="miter"/>
</svg></body></html>
